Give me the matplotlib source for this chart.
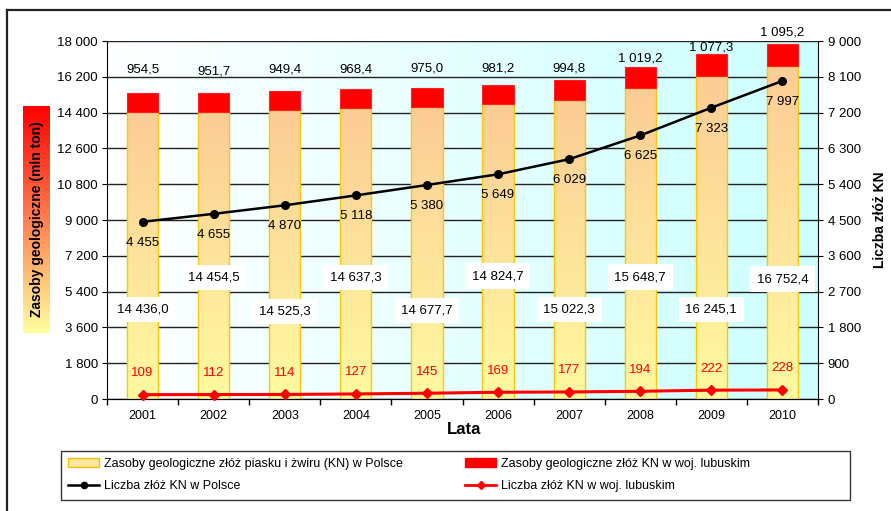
import numpy as np
import matplotlib
matplotlib.use('Agg')
import matplotlib.pyplot as plt
from matplotlib.patches import Rectangle, Patch
from matplotlib.lines import Line2D

plt.rcParams['font.family'] = ['Liberation Sans', 'DejaVu Sans']

# ---------------- data ----------------
years = ['2001', '2002', '2003', '2004', '2005', '2006', '2007', '2008', '2009', '2010']
zasoby_polska = [14436.0, 14454.5, 14525.3, 14637.3, 14677.7, 14824.7, 15022.3, 15648.7, 16245.1, 16752.4]
zasoby_lubuskie = [954.5, 951.7, 949.4, 968.4, 975.0, 981.2, 994.8, 1019.2, 1077.3, 1095.2]
liczba_polska = [4455, 4655, 4870, 5118, 5380, 5649, 6029, 6625, 7323, 7997]
liczba_lubuskie = [109, 112, 114, 127, 145, 169, 177, 194, 222, 228]

left_ticks = list(range(0, 18001, 1800))
right_ticks = list(range(0, 9001, 900))

# ---------------- layout (label placement) ----------------
top_label_y = [16590, 16490, 16560, 16560, 16610, 16640, 16640, 17145, 17650, 18450]
pl_label_y = [4500, 6090, 4400, 6090, 4430, 6180, 4480, 6130, 4480, 6030]


def fmt(v, dec=0):
    return f"{v:,.{dec}f}".replace(',', ' ').replace('.', ',')


W, H = 891, 511
fig = plt.figure(figsize=(W / 100, H / 100), dpi=100)
fig.patch.set_facecolor('white')

ax = fig.add_axes([107 / W, 1 - 399 / H, 711 / W, 358 / H])
x = np.arange(len(years))
bw = 0.44

# background gradient (white -> light cyan, left to right)
bg = np.zeros((2, 256, 3))
t = np.linspace(0, 1, 256)
bg[:, :, 0] = (255 - 51 * t) / 255
bg[:, :, 1] = 1.0
bg[:, :, 2] = 1.0
ax.imshow(bg, extent=[0, 1, 0, 1], transform=ax.transAxes, aspect='auto', zorder=0)

# bar gradient (pale yellow bottom -> peach top)
s = np.linspace(0, 1, 256)[:, None]
bot = np.array([255, 250, 160]) / 255
top = np.array([252, 204, 150]) / 255
bar_grad = (bot + (top - bot) * s)[::-1][:, None, :].repeat(2, axis=1)
for i, v in enumerate(zasoby_polska):
    ax.imshow(bar_grad, extent=[x[i] - bw / 2, x[i] + bw / 2, 0, v], aspect='auto',
              zorder=2, interpolation='bilinear')
ax.bar(x, zasoby_polska, bw, fill=False, edgecolor='#F8C80A', linewidth=1.0, zorder=3)
ax.bar(x, zasoby_lubuskie, bw, bottom=zasoby_polska, color='#FF0000',
       edgecolor='#FF2020', linewidth=0.8, zorder=3)

ax.set_xlim(-0.5, len(years) - 0.5)
ax.set_ylim(0, 18000)
ax.set_yticks(left_ticks)
ax.set_yticklabels([fmt(v) for v in left_ticks])
ax.yaxis.grid(True, color='#222222', linewidth=1.0)
ax.set_axisbelow(True)
ax.tick_params(axis='y', length=3.5, pad=3, labelsize=9.5, direction='out')
ax.set_xticks(x)
ax.set_xticklabels(years)
ax.tick_params(axis='x', which='major', length=0, pad=8, labelsize=9)
ax.set_xticks(np.arange(-0.5, len(years), 1), minor=True)
ax.tick_params(axis='x', which='minor', length=4, direction='out', width=1)
for sp in ['top']:
    ax.spines[sp].set_visible(False)
ax.spines['right'].set_visible(False)

# labels for bars
for i in range(len(years)):
    ax.text(x[i], top_label_y[i], fmt(zasoby_lubuskie[i], 1), ha='center', va='center',
            fontsize=9.5, zorder=6, clip_on=False)
    ax.text(x[i], pl_label_y[i], fmt(zasoby_polska[i], 1), ha='center', va='center',
            fontsize=9.5, zorder=6,
            bbox=dict(boxstyle='square,pad=0.5', fc='white', ec='none'))

# secondary axis
ax2 = ax.twinx()
ax2.set_ylim(0, 9000)
ax2.set_yticks(right_ticks)
ax2.set_yticklabels([fmt(v) for v in right_ticks])
ax2.tick_params(axis='y', length=3.5, pad=3.5, labelsize=9.5, direction='out')
ax2.spines['top'].set_visible(False)
ax2.spines['left'].set_visible(False)
ax2.plot(x, liczba_polska, color='black', lw=1.8, marker='o', ms=5.5, zorder=5, clip_on=False)
ax2.plot(x, liczba_lubuskie, color='#FF0000', lw=2.2, marker='D', ms=5, zorder=5, clip_on=False)
for i in range(len(years)):
    ax2.annotate(fmt(liczba_polska[i]), (x[i], liczba_polska[i]), xytext=(0, -15),
                 textcoords='offset points', ha='center', va='center', fontsize=9.5)
    ax2.annotate(fmt(liczba_lubuskie[i]), (x[i], liczba_lubuskie[i]), xytext=(0, 15.5),
                 textcoords='offset points', ha='center', va='center', fontsize=9.5,
                 color='#FF0000')

# axis titles
fig.text(464 / W, 1 - 429 / H, 'Lata', ha='center', va='center', fontsize=12, fontweight='bold')
gax = fig.add_axes([23 / W, 1 - 333 / H, 27 / W, 227 / H])
g = np.linspace(0, 1, 256)[:, None]
c_bot = np.array([255, 255, 160]) / 255
c_top = np.array([255, 0, 0]) / 255
lab_grad = (c_bot + (c_top - c_bot) * g)[::-1][:, None, :].repeat(2, axis=1)
gax.imshow(lab_grad, aspect='auto', extent=[0, 1, 0, 1], interpolation='bilinear')
gax.axis('off')
fig.text(37 / W, 1 - 219 / H, 'Zasoby geologiczne (mln ton)', rotation=90, ha='center',
         va='center', fontsize=10, fontweight='bold')
fig.text(880 / W, 1 - 220 / H, 'Liczba złóż KN', rotation=90, ha='center', va='center',
         fontsize=10, fontweight='bold')

# legend
h1 = Patch(facecolor='#FFE6A0', edgecolor='#F5C000', linewidth=1)
h2 = Line2D([], [], color='black', lw=1.8, marker='o', ms=4.5)
h3 = Patch(facecolor='#FF0000', edgecolor='#FF0000')
h4 = Line2D([], [], color='#FF0000', lw=2.0, marker='D', ms=4.5)
common = dict(loc='center left', frameon=False, fontsize=9, handlelength=2.5,
              handletextpad=0.4, labelspacing=0.85, borderpad=0, borderaxespad=0)
leg1 = fig.legend([h1, h2], ['Zasoby geologiczne złóż piasku i żwiru (KN) w Polsce',
                             'Liczba złóż KN w Polsce'],
                  bbox_to_anchor=(68 / W, 1 - 475 / H), **common)
leg2 = fig.legend([h3, h4], ['Zasoby geologiczne złóż KN w woj. lubuskim',
                             'Liczba złóż KN w woj. lubuskim'],
                  bbox_to_anchor=(465 / W, 1 - 475 / H), **common)
fig.add_artist(Rectangle((61 / W, 1 - 500 / H), 789 / W, 49 / H, transform=fig.transFigure,
                         fill=False, edgecolor='#333333', linewidth=1))

# outer chart border
fig.add_artist(Line2D([7 / W, 7 / W], [0, 1 - 10 / H], transform=fig.transFigure,
                      color='#222222', lw=1.6))
fig.add_artist(Line2D([7 / W, 1], [1 - 10 / H, 1 - 10 / H], transform=fig.transFigure,
                      color='#222222', lw=1.6))

fig.savefig('out.png', dpi=100, facecolor='white')
